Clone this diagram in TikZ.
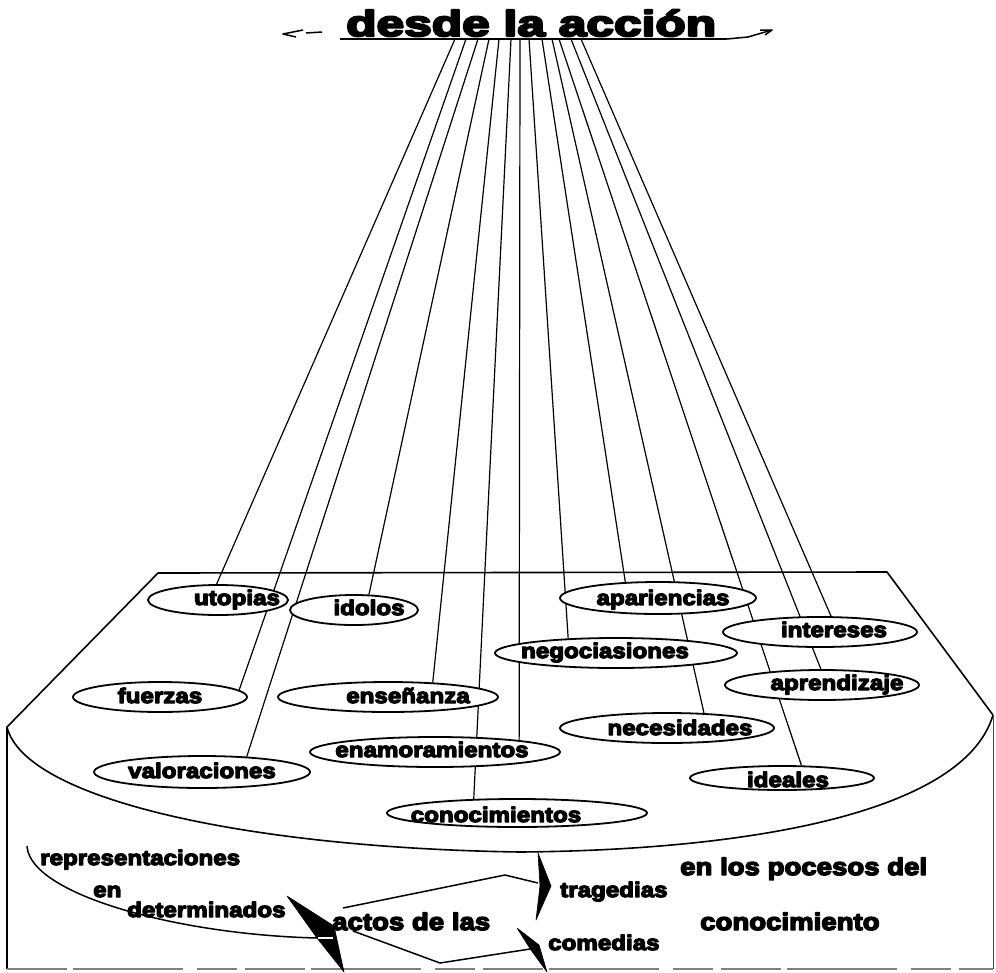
\documentclass[tikz,border=0pt]{standalone}
\usepackage{fontspec}
\newfontfamily\heavy{Liberation Sans Bold}[FakeStretch=1.15, FakeBold=6]
\usetikzlibrary{shapes.geometric}
\pgfdeclarelayer{background}
\pgfsetlayers{background,main}

\tikzset{
  spot/.style={ellipse, draw, line width=1.8pt, fill=white, inner sep=0pt},
  word/.style={font=\heavy\fontsize{21}{24}\selectfont, anchor=base, inner sep=0pt},
  smallword/.style={font=\heavy\fontsize{21}{24}\selectfont, anchor=base west, inner sep=0pt},
  bigword/.style={font=\heavy\fontsize{24}{28}\selectfont, anchor=base west, inner sep=0pt},
  ray/.style={line width=1.2pt},
  rim/.style={line width=1.6pt},
  wedge/.style={fill=black, draw=black, line width=0.6pt},
}

\begin{document}
\begin{tikzpicture}[x=1pt, y=-1pt, line join=round]
\useasboundingbox (0,0) rectangle (996,972);

% heading with its underline flourishes
\node[font=\heavy\fontsize{36}{40}\selectfont, anchor=base west, inner sep=0pt]
  (title) at (346,36) {\scalebox{1.2}[1]{desde la acción}};
\draw[line width=2.6pt] (340,39) -- (727,39);
\draw[line width=1.5pt] (303,30) -- (283,34) -- (296,37);
\draw[line width=1.5pt] (306,33) -- (322,32);
\draw[line width=1.5pt] (727,39) -- (748,37) -- (772,30);
\draw[line width=1.5pt] (760,30) -- (772,30) -- (765,35);

% start points of the rays under the heading
\foreach \i/\x in {1/455,2/466,3/478,4/489,5/499,6/511,7/520,8/529,9/542,10/552,11/559,12/571,13/581}
  \coordinate (top\i) at (\x,39);

% tray
\draw[rim] (7,969) -- (7,727) -- (158,573) -- (887,572) -- (993,715);
\draw[rim] (7,727) .. controls (25,800) and (250,848) .. (520,852)
               .. controls (760,850) and (965,810) .. (993,715);
\draw[black!70, line width=1pt] (993,715) -- (993,969);
\draw[black!50, line width=1.2pt, dash pattern=on 60pt off 6pt on 110pt off 14pt on 40pt off 8pt] (7,969) -- (993,969);

% ellipses on the tray
\node[spot, minimum width=140pt, minimum height=30pt] (utopias) at (218,600) {};
\node[spot, minimum width=128pt, minimum height=30pt] (idolos) at (354,610) {};
\node[spot, minimum width=174pt, minimum height=30pt] (fuerzas) at (160,697) {};
\node[spot, minimum width=220pt, minimum height=30pt] (ensenanza) at (388,697) {};
\node[spot, minimum width=216pt, minimum height=32pt] (valoraciones) at (202,772) {};
\node[spot, minimum width=250pt, minimum height=30pt] (enamoramientos) at (435,752) {};
\node[spot, minimum width=260pt, minimum height=28pt] (conocimientos) at (517,813) {};
\node[spot, minimum width=196pt, minimum height=32pt] (apariencias) at (658,598) {};
\node[spot, minimum width=242pt, minimum height=30pt] (negociasiones) at (616,653) {};
\node[spot, minimum width=194pt, minimum height=30pt] (intereses) at (820,632) {};
\node[spot, minimum width=194pt, minimum height=30pt] (aprendizaje) at (822,685) {};
\node[spot, minimum width=214pt, minimum height=30pt] (necesidades) at (667,728) {};
\node[spot, minimum width=184pt, minimum height=24pt] (ideales) at (782,778) {};

% rays from the heading down to the ellipses (behind them)
\begin{pgfonlayer}{background}
  \draw[ray] (top1) -- (utopias.95);
  \draw[ray] (top2) -- (fuerzas.5);
  \draw[ray] (top3) -- (valoraciones.19);
  \draw[ray] (top4) -- (idolos.46);
  \draw[ray] (top5) -- (ensenanza.18);
  \draw[ray] (top6) -- (conocimientos.162);
  \draw[ray] (top7) -- (enamoramientos.8);
  \draw[ray] (top8) -- (negociasiones.163);
  \draw[ray] (top9) -- (apariencias.154);
  \draw[ray] (top10) -- (necesidades.22);
  \draw[ray] (top11) -- (ideales.33);
  \draw[ray] (top12) -- (aprendizaje.94);
  \draw[ray] (top13) -- (intereses.55);
\end{pgfonlayer}

% ellipse labels
\node[word] (utopias-t) at (237,605) {utopias};
\node[word] (idolos-t) at (369,615) {idolos};
\node[word] (fuerzas-t) at (160,703) {fuerzas};
\node[word] (ensenanza-t) at (408,703) {enseñanza};
\node[word] (valoraciones-t) at (202,778) {valoraciones};
\node[word] (enamoramientos-t) at (432,757) {enamoramientos};
\node[word] (conocimientos-t) at (496,822) {conocimientos};
\node[word] (apariencias-t) at (663,605) {apariencias};
\node[word] (negociasiones-t) at (605,658) {negociasiones};
\node[word] (intereses-t) at (834,637) {intereses};
\node[word] (aprendizaje-t) at (837,690) {aprendizaje};
\node[word] (necesidades-t) at (680,735) {necesidades};
\node[word] (ideales-t) at (788,787) {ideales};

% front panel texts
\node[smallword] (repr) at (40,865) {representaciones};
\node[smallword] (en) at (93,897) {en};
\node[smallword] (determ) at (127,917) {determinados};
\node[bigword] (actos) at (332,930) {actos de las};
\node[smallword] (trag) at (560,897) {tragedias};
\node[smallword] (come) at (548,950) {comedias};
\node[bigword] (procesos) at (680,875) {en los pocesos del};
\node[bigword] (conoc) at (700,930) {conocimiento};

% curved bracket and wedges
\coordinate (bstart) at (27,846);
\coordinate (bend) at (318,938);
\draw[line width=1.5pt] (bstart) .. controls (30,895) and (180,935) .. (bend);
\draw[wedge] (287,896) -- (334,926) -- (344,972) -- (317,938) -- cycle;
\draw[white, line width=1.4pt] (bend) -- (333,938);

\coordinate (up1) at (343,908);
\coordinate (up2) at (505,875);
\coordinate (up3) at (538,883);
\draw[line width=1.5pt] (up1) -- (up2) -- (up3);
\draw[wedge] (538,853) -- (551,886) -- (536,920) -- (540,886) -- cycle;

\coordinate (lo1) at (353,931);
\coordinate (lo2) at (440,963);
\coordinate (lo3) at (530,949);
\draw[line width=1.5pt] (lo1) -- (lo2) -- (lo3);
\draw[wedge] (517,928) -- (539,945) -- (547,972) -- (531,950) -- cycle;

\end{tikzpicture}
\end{document}
